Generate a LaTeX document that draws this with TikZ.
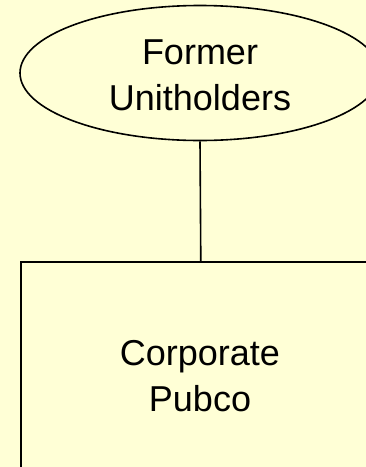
\documentclass[tikz,border=0pt]{standalone}
\usepackage{fontspec}
\setmainfont{Liberation Sans}
\usetikzlibrary{shapes.geometric}
\definecolor{paper}{HTML}{FFFFD6}
\begin{document}
\begin{tikzpicture}[x=1pt,y=-1pt,
  outline/.style={draw=black,line width=1.6pt},
  label/.style={font=\fontsize{36}{41}\selectfont,text=black,anchor=base,inner sep=0pt}]
  \useasboundingbox (0,0) rectangle (366,467);
  \fill[paper] (0,0) rectangle (366,467);
  \clip (0,0) rectangle (366,467);
  % holders ellipse
  \node[outline,ellipse,minimum width=360pt,minimum height=135pt,inner sep=0pt] (holders) at (200,73) {};
  \node[label] (holders1) at (200,64) {Former};
  \node[label] (holders2) at (200,110) {Unitholders};
  % company box
  \node[outline,rectangle,minimum width=360pt,minimum height=226pt,inner sep=0pt,anchor=north west] (pubco) at (20,261) {};
  \node[label] (pubco1) at (200,365.5) {Corporate};
  \node[label] (pubco2) at (200,411) {Pubco};
  \draw[outline] (holders.south) -- (pubco.north);
\end{tikzpicture}
\end{document}
